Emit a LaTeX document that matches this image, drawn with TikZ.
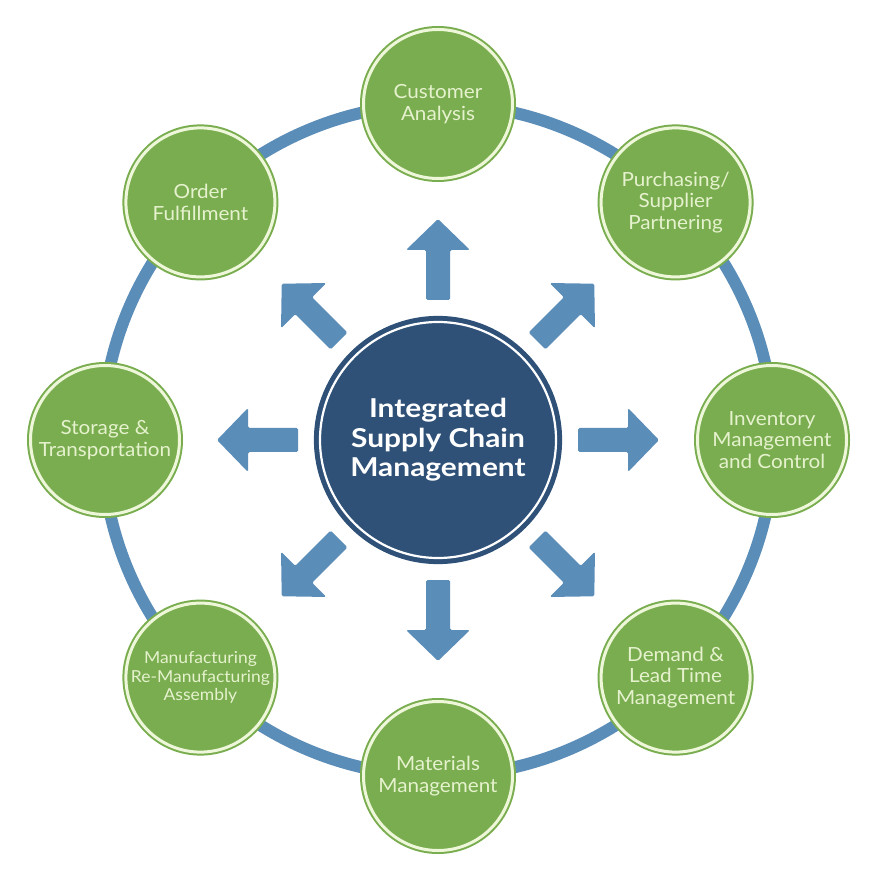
\documentclass[tikz,border=0pt]{standalone}
\usepackage{fontspec}
\setmainfont{Lato}
\newfontfamily\satfont{Lato}[FakeStretch=1.06]
\newfontfamily\hubfont{Lato}[FakeStretch=1.15]
\usetikzlibrary{calc}
\definecolor{ringblue}{HTML}{5B8DB9}
\definecolor{navy}{HTML}{2F5178}
\definecolor{leaf}{HTML}{79AD4F}
\definecolor{cream}{HTML}{EEF7DA}
\definecolor{satext}{HTML}{E6F2CE}
\begin{document}
\begin{tikzpicture}[x=1pt,y=1pt,
  sat/.style={circle, minimum size=149pt, inner sep=0pt, fill=leaf, draw=leaf,
    double=cream, double distance=3pt, line width=2pt, text=satext,
    align=center, font=\satfont\fontsize{19.5}{21.5}\selectfont},
  hub/.style={circle, minimum size=236pt, inner sep=0pt, fill=navy, draw=navy,
    double=white, double distance=2.2pt, line width=5pt, text=white,
    align=center, font=\hubfont\bfseries\fontsize{26}{29.5}\selectfont},
  ringline/.style={draw=ringblue, line width=12pt},
  arrowshape/.style={fill=ringblue, rounded corners=1.5pt}]
\useasboundingbox (0,0) rectangle (882,868);
\fill[white] (0,0) rectangle (882,868);
\coordinate (c) at (438,428);
\draw[ringline] (c) circle[radius=336];
\foreach \a in {0,45,...,315}{
  \begin{scope}[shift={(c)}, rotate=\a]
    \fill[arrowshape] (140,-12) -- (190,-12) -- (190,-32) -- (221,0) -- (190,32) -- (190,12) -- (140,12) -- cycle;
  \end{scope}
}
\node[hub] (hub) at (c) {Integrated\\Supply Chain\\Management};
\node[sat] (cust) at ($(c)+(90:336)$) {Customer\\Analysis};
\node[sat] (purch) at ($(c)+(45:336)$) {Purchasing/\\Supplier\\Partnering};
\node[sat] (inv) at ($(c)+(0:334)$) {Inventory\\Management\\and Control};
\node[sat] (dem) at ($(c)+(-45:336)$) {Demand \&\\Lead Time\\Management};
\node[sat] (mat) at ($(c)+(-90:336)$) {Materials\\Management};
\node[sat, font=\satfont\fontsize{16.5}{18.5}\selectfont] (manu) at ($(c)+(-135:336)$) {Manufacturing\\Re-Manufacturing\\Assembly};
\node[sat] (stor) at ($(c)+(180:333)$) {Storage \&\\Transportation};
\node[sat] (ord) at ($(c)+(135:336)$) {Order\\Fulfillment};
\end{tikzpicture}
\end{document}
